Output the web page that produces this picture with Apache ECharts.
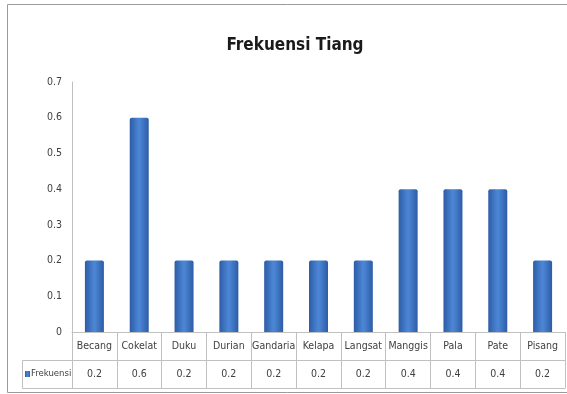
<!DOCTYPE html>
<html>
<head>
<meta charset="utf-8">
<script src="https://cdn.jsdelivr.net/npm/echarts@6/dist/echarts.min.js"></script>
<style>
html,body{margin:0;padding:0;background:#fff;}
#c{width:567px;height:394px;}
</style>
</head>
<body>
<div id="c"></div>
<script>
const title = 'Frekuensi Tiang';
const seriesName = 'Frekuensi';
const categories = ['Becang','Cokelat','Duku','Durian','Gandaria','Kelapa','Langsat','Manggis','Pala','Pate','Pisang'];
const values = [0.2, 0.6, 0.2, 0.2, 0.2, 0.2, 0.2, 0.4, 0.4, 0.4, 0.2];
const yTicks = [0, 0.1, 0.2, 0.3, 0.4, 0.5, 0.6, 0.7];

const FONT = '"DejaVu Sans Condensed", "Liberation Sans Narrow", sans-serif';
const lineColor = '#c0c0c0';
const textColor = '#404040';

const chart = echarts.init(document.getElementById('c'), null, {renderer: 'canvas'});

const barColor = new echarts.graphic.LinearGradient(0, 0, 1, 0, [
  {offset: 0, color: '#2d5ca6'},
  {offset: 0.45, color: '#4a84d2'},
  {offset: 0.55, color: '#4a84d2'},
  {offset: 1, color: '#2d5ca6'}
]);

const rowH = 28;

function tableAxis(offset, showLabels, formatter) {
  return {
    type: 'category',
    data: categories,
    position: 'bottom',
    gridIndex: 0,
    offset: offset,
    boundaryGap: true,
    axisLine: {show: true, lineStyle: {color: lineColor, width: 1}},
    axisTick: {show: showLabels, length: rowH, lineStyle: {color: lineColor}},
    axisLabel: {
      show: showLabels,
      interval: 0,
      margin: 9,
      color: textColor,
      fontFamily: FONT,
      fontSize: 10.5,
      formatter: formatter
    },
    splitLine: {show: false}
  };
}

const option = {
  backgroundColor: '#fff',
  animation: false,
  title: {
    text: title,
    left: 290,
    textAlign: 'center',
    top: 32,
    textStyle: {fontFamily: FONT, fontSize: 17, fontWeight: 'bold', color: '#1a1a1a'}
  },
  legend: {
    show: true,
    left: 25,
    top: 369,
    padding: 0,
    icon: 'rect',
    itemWidth: 5,
    itemHeight: 6,
    itemGap: 2,
    textStyle: {fontFamily: FONT, fontSize: 9.5, color: textColor, padding: [0,0,0,-4]},
    data: [seriesName]
  },
  grid: {left: 72, right: 2, top: 82, bottom: 62, containLabel: false},
  xAxis: [
    tableAxis(0, true, v => v),
    tableAxis(rowH, true, (v, i) => String(values[i])),
    tableAxis(rowH * 2, false, v => v)
  ],
  yAxis: {
    type: 'value',
    min: yTicks[0],
    max: yTicks[yTicks.length - 1],
    interval: 0.1,
    axisLine: {show: true, lineStyle: {color: lineColor}},
    axisTick: {show: false},
    splitLine: {show: false},
    axisLabel: {
      color: textColor,
      fontFamily: FONT,
      fontSize: 10.5,
      margin: 10,
      formatter: v => (Math.abs(v) < 1e-9 ? '0' : v.toFixed(1))
    }
  },
  graphic: [
    {
      type: 'rect',
      shape: {x: 7.5, y: 4.5, width: 600, height: 388},
      style: {fill: 'none', stroke: '#9a9a9a', lineWidth: 1},
      silent: true
    },
    {
      type: 'polyline',
      shape: {points: [[72, 360.5], [22.5, 360.5], [22.5, 388.5], [72, 388.5]]},
      style: {fill: 'none', stroke: lineColor, lineWidth: 1},
      silent: true
    }
  ],
  series: [{
    name: seriesName,
    type: 'bar',
    xAxisIndex: 0,
    data: values,
    barWidth: 19,
    itemStyle: {color: barColor, borderRadius: [2, 2, 0, 0]}
  }]
};
chart.setOption(option);
</script>
</body>
</html>
